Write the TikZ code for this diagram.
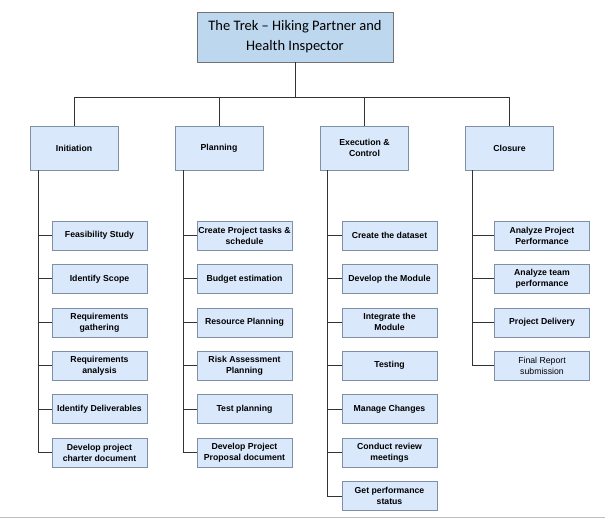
\documentclass[tikz,border=0pt]{standalone}
\usepackage{fontspec}
\setmainfont{Liberation Sans}
\newfontfamily\titlefont{Carlito}
\usepackage{tikz}
\usetikzlibrary{positioning}
\definecolor{TKTitle}{HTML}{BDD7EE}
\definecolor{TKFill}{HTML}{DAE8FC}
\definecolor{TKEdge}{HTML}{7F8FA6}
\definecolor{TKLine}{HTML}{333333}

\begin{document}
\begin{tikzpicture}[
    x=1pt, y=-1pt,
    node distance=14pt,
    every node/.style={align=center, inner sep=1pt},
    titlebox/.style={draw=gray!90!black, fill=TKTitle, minimum width=196pt, minimum height=50pt,
      font=\titlefont\fontsize{14.5}{20}\selectfont},
    phase/.style={draw=TKEdge, fill=TKFill, minimum width=88pt, minimum height=44pt,
      font=\fontsize{8.7}{11}\selectfont\bfseries},
    task/.style={draw=TKEdge, fill=TKFill, minimum width=95pt, minimum height=29pt,
      font=\fontsize{8.7}{11}\selectfont\bfseries},
    link/.style={draw=TKLine, line width=0.8pt}
  ]
    \useasboundingbox (0,0) rectangle (605,518);

    \node[titlebox] (title) at (295,37) {The Trek – Hiking Partner and\\Health Inspector};
    \coordinate (bar) at (0,97);

    % phases
    \node[phase] (init) at (74,148) {Initiation};
    \node[phase] (plan) at (219,148) {Planning};
    \node[phase] (exec) at (364.5,148) {Execution \&\\Control};
    \node[phase] (close) at (509.5,148) {Closure};

    % initiation tasks
    \node[task] (i1) at (99.5,235.5) {Feasibility Study};
    \node[task, below=of i1] (i2) {Identify Scope};
    \node[task, below=of i2] (i3) {Requirements\\gathering};
    \node[task, below=of i3] (i4) {Requirements\\analysis};
    \node[task, below=of i4] (i5) {Identify Deliverables};
    \node[task, below=of i5] (i6) {Develop project\\charter document};

    % planning tasks
    \node[task] (p1) at (244.5,235.5) {Create Project tasks \&\\schedule};
    \node[task, below=of p1] (p2) {Budget estimation};
    \node[task, below=of p2] (p3) {Resource Planning};
    \node[task, below=of p3] (p4) {Risk Assessment\\Planning};
    \node[task, below=of p4] (p5) {Test planning};
    \node[task, below=of p5] (p6) {Develop Project\\Proposal document};

    % execution tasks
    \node[task] (e1) at (389.5,235.5) {Create the dataset};
    \node[task, below=of e1] (e2) {Develop the Module};
    \node[task, below=of e2] (e3) {Integrate the\\Module};
    \node[task, below=of e3] (e4) {Testing};
    \node[task, below=of e4] (e5) {Manage Changes};
    \node[task, below=of e5] (e6) {Conduct review\\meetings};
    \node[task, below=of e6] (e7) {Get performance\\status};

    % closure tasks
    \node[task] (c1) at (542,235.5) {Analyze Project\\Performance};
    \node[task, below=of c1] (c2) {Analyze team\\performance};
    \node[task, below=of c2] (c3) {Project Delivery};
    \node[task, below=of c3, font=\fontsize{8.7}{11}\selectfont] (c4) {Final Report\\submission};

    % top connectors
    \draw[link] (title.south) -- (title.south |- bar);
    \draw[link] (init.north |- bar) -- (close.north |- bar);
    \draw[link] (init.north) -- (init.north |- bar);
    \draw[link] (plan.north) -- (plan.north |- bar);
    \draw[link] (exec.north) -- (exec.north |- bar);
    \draw[link] (close.north) -- (close.north |- bar);

    % spines
    \draw[link] ([xshift=9pt]init.south west) |- (i6.west);
    \draw[link] ([xshift=9pt]plan.south west) |- (p6.west);
    \draw[link] ([xshift=7pt]exec.south west) |- (e7.west);
    \draw[link] ([xshift=7pt]close.south west) |- (c4.west);

    % stubs
    \draw[link] ([xshift=9pt]init.south west |- i1.west) -- (i1.west);
    \draw[link] ([xshift=9pt]init.south west |- i2.west) -- (i2.west);
    \draw[link] ([xshift=9pt]init.south west |- i3.west) -- (i3.west);
    \draw[link] ([xshift=9pt]init.south west |- i4.west) -- (i4.west);
    \draw[link] ([xshift=9pt]init.south west |- i5.west) -- (i5.west);
    \draw[link] ([xshift=9pt]plan.south west |- p1.west) -- (p1.west);
    \draw[link] ([xshift=9pt]plan.south west |- p2.west) -- (p2.west);
    \draw[link] ([xshift=9pt]plan.south west |- p3.west) -- (p3.west);
    \draw[link] ([xshift=9pt]plan.south west |- p4.west) -- (p4.west);
    \draw[link] ([xshift=9pt]plan.south west |- p5.west) -- (p5.west);
    \draw[link] ([xshift=7pt]exec.south west |- e1.west) -- (e1.west);
    \draw[link] ([xshift=7pt]exec.south west |- e2.west) -- (e2.west);
    \draw[link] ([xshift=7pt]exec.south west |- e3.west) -- (e3.west);
    \draw[link] ([xshift=7pt]exec.south west |- e4.west) -- (e4.west);
    \draw[link] ([xshift=7pt]exec.south west |- e5.west) -- (e5.west);
    \draw[link] ([xshift=7pt]exec.south west |- e6.west) -- (e6.west);
    \draw[link] ([xshift=7pt]close.south west |- c1.west) -- (c1.west);
    \draw[link] ([xshift=7pt]close.south west |- c2.west) -- (c2.west);
    \draw[link] ([xshift=7pt]close.south west |- c3.west) -- (c3.west);

    % bottom edge
    \draw[gray!50, line width=1pt] (0,517) -- (605,517);
  \end{tikzpicture}
\end{document}
